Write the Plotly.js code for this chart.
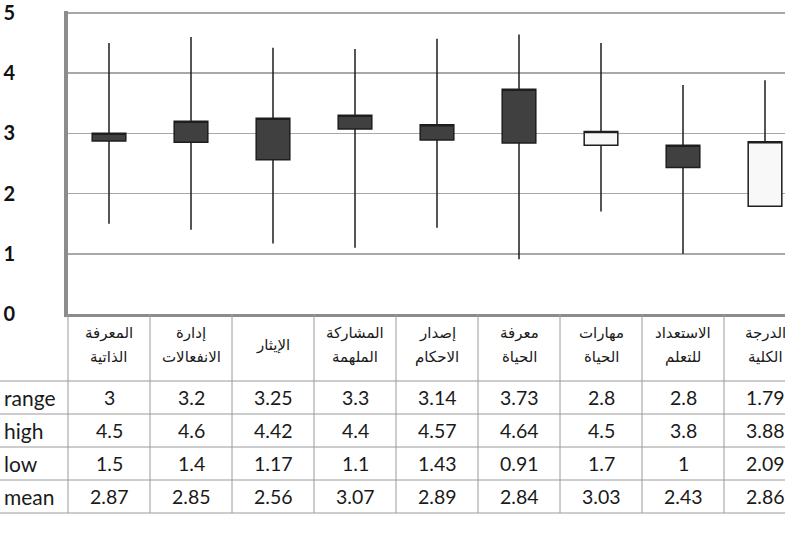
<!DOCTYPE html>
<html><head><meta charset="utf-8">
<script src="https://cdn.plot.ly/plotly-3.0.1.min.js"></script>
<style>html,body{margin:0;padding:0;overflow:hidden;background:#fff}#chart{width:806px;height:546px}</style>
</head><body><div id="chart"></div>
<script>
const categories = ["المعرفة<br>الذاتية","إدارة<br>الانفعالات","الإيثار","المشاركة<br>الملهمة","إصدار<br>الاحكام","معرفة<br>الحياة","مهارات<br>الحياة","الاستعداد<br>للتعلم","الدرجة<br>الكلية"];
const rangeVals = [3, 3.2, 3.25, 3.3, 3.14, 3.73, 2.8, 2.8, 1.79];
const highVals  = [4.5, 4.6, 4.42, 4.4, 4.57, 4.64, 4.5, 3.8, 3.88];
const lowVals   = [1.5, 1.4, 1.17, 1.1, 1.43, 0.91, 1.7, 1, 2.09];
const meanVals  = [2.87, 2.85, 2.56, 3.07, 2.89, 2.84, 3.03, 2.43, 2.86];
const rowLabels = ["range", "high", "low", "mean"];
const yTicks = [0, 1, 2, 3, 4, 5];

// geometry (pixels)
const W = 806, H = 546, L = 68, T = 11, B = 232;
const headerBottom = 381, rowH = 33;
const plotW = W - L, plotH = H - T - B;
const px = p => (p - L) / plotW;
const py = p => (H - B - p) / plotH;

function boxTrace(up) {
  const t = {x: [], q1: [], median: [], q3: [], lowerfence: [], upperfence: []};
  categories.forEach((c, i) => {
    const isUp = meanVals[i] >= rangeVals[i];
    if (isUp !== up) return;
    const lo = Math.min(rangeVals[i], meanVals[i]);
    const hi = Math.max(rangeVals[i], meanVals[i]);
    t.x.push(c); t.q1.push(lo); t.q3.push(hi); t.median.push(hi);
    t.lowerfence.push(Math.min(lowVals[i], lo));
    t.upperfence.push(Math.max(highVals[i], hi));
  });
  return Object.assign(t, {
    type: 'box', width: 0.41, whiskerwidth: 0, boxpoints: false,
    fillcolor: up ? '#f8f8f8' : '#404040',
    line: {color: '#1e1e1e', width: 1.5},
    hoverinfo: 'skip', showlegend: false
  });
}

const shapes = [];
// vertical table lines
for (let i = 0; i <= categories.length; i++) {
  const xp = px(L + plotW * i / categories.length);
  shapes.push({type: 'line', xref: 'paper', yref: 'paper', x0: xp, x1: xp,
    y0: py(314), y1: py(headerBottom + rowH * rowLabels.length),
    line: {color: '#9a9a9a', width: 1}});
}
// horizontal table lines
for (let r = 0; r <= rowLabels.length; r++) {
  const yp = py(headerBottom + rowH * r);
  shapes.push({type: 'line', xref: 'paper', yref: 'paper', x0: px(0), x1: px(W),
    y0: yp, y1: yp, line: {color: '#9a9a9a', width: 1}});
}

const annotations = [];
const numFont = {family: 'Lato, sans-serif', size: 19.5, color: '#1a1a1a'};
const arFont = {family: 'DejaVu Sans, sans-serif', size: 15, color: '#1a1a1a'};
const rows = [rangeVals, highVals, lowVals, meanVals];
rows.forEach((vals, r) => {
  const yc = py(headerBottom + rowH * r + rowH / 2);
  annotations.push({xref: 'paper', yref: 'paper', x: px(2), y: yc, xanchor: 'left', yanchor: 'middle',
    text: rowLabels[r], showarrow: false, font: Object.assign({}, numFont, {size: 21})});
  vals.forEach((v, i) => {
    annotations.push({xref: 'x', yref: 'paper', x: i, y: yc, xanchor: 'center', yanchor: 'middle',
      text: String(v), showarrow: false, font: numFont});
  });
});
categories.forEach((c, i) => {
  const lines = c.split('<br>');
  const ys = lines.length === 2 ? [333, 357] : [345];
  lines.forEach((ln, k) => {
    annotations.push({xref: 'x', yref: 'paper', x: i, y: py(ys[k]), xanchor: 'center', yanchor: 'middle',
      text: ln, showarrow: false, font: arFont});
  });
});

const layout = {
  width: W, height: H,
  margin: {l: L, r: W - L - plotW, t: T, b: B, pad: 0},
  paper_bgcolor: '#ffffff', plot_bgcolor: '#ffffff',
  boxmode: 'overlay',
  xaxis: {type: 'category', categoryarray: categories, categoryorder: 'array', range: [-0.5, categories.length - 0.5],
    showticklabels: false, showgrid: false, zeroline: false, showline: true, linecolor: '#8c8c8c', linewidth: 3, ticks: ''},
  yaxis: {range: [0, 5.03], tickvals: yTicks, ticktext: yTicks.map(String), showgrid: true, gridcolor: '#a8a8a8', gridwidth: 1.5,
    zeroline: false, showline: true, linecolor: '#8c8c8c', linewidth: 4, ticks: '', ticklabelstandoff: 45,
    ticklabeloverflow: 'allow',
    tickfont: {family: 'Lato, sans-serif', size: 20, color: '#111', weight: 'bold'}},
  shapes: shapes, annotations: annotations
};

Plotly.newPlot('chart', [boxTrace(false), boxTrace(true)], layout, {displayModeBar: false, staticPlot: true});
</script></body></html>
